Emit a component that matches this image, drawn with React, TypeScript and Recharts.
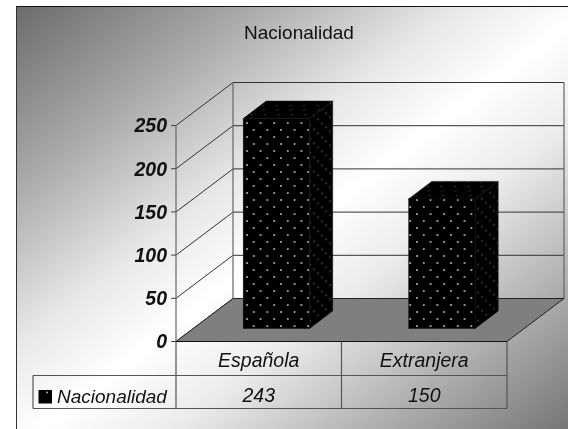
import React from 'react';
import { BarChart, Bar, XAxis, YAxis, CartesianGrid } from 'recharts';

const categories = ['Española', 'Extranjera'];
const values = [243, 150];
const yTicks = [0, 50, 100, 150, 200, 250];
const seriesName = 'Nacionalidad';

const chartData = categories.map((name, i) => ({ name, value: values[i] }));

const W = 568;
const H = 429;
const FONT = '"Liberation Sans", Arial, sans-serif';

// plot area of the front plane, the walls are drawn behind it with an offset
const LEFT = 176;
const RIGHT = 507;
const TOP = 125.5;
const BOTTOM = 341.5;
const DEPTH_X = 57;
const DEPTH_Y = 43;

// bars stand in the middle of the floor
const BAR_SHIFT_X = 17.2;
const BAR_SHIFT_Y = 13;
const BAR_DEPTH_X = 23;
const BAR_DEPTH_Y = 17.5;

const TABLE_ROW1 = 375.5;
const TABLE_ROW2 = 408.5;
const TABLE_LEFT = 33;
const TABLE_MID = 341.5;

const Patterns = () => (
  <defs>
    <pattern id="dotsFront" width={13.6} height={14} patternUnits="userSpaceOnUse" patternTransform="translate(245 121)">
      <rect width={13.6} height={14} fill="#000" />
      <circle cx={2} cy={2} r={1} fill="#b8b8b8" />
      <circle cx={8.8} cy={9} r={1} fill="#b8b8b8" />
    </pattern>
    <pattern id="dotsSide" width={8} height={14} patternUnits="userSpaceOnUse" patternTransform="skewY(-37)">
      <rect width={8} height={14} fill="#000" />
      <circle cx={2} cy={2} r={0.7} fill="#7a7a7a" />
      <circle cx={6} cy={9} r={0.7} fill="#7a7a7a" />
    </pattern>
    <pattern id="dotsTop" width={13.6} height={9} patternUnits="userSpaceOnUse" patternTransform="skewX(-53)">
      <rect width={13.6} height={9} fill="#000" />
      <circle cx={2} cy={2} r={0.6} fill="#666" />
      <circle cx={8.8} cy={6.5} r={0.6} fill="#666" />
    </pattern>
  </defs>
);

const Floor = () => (
  <polygon
    points={`${LEFT},${BOTTOM} ${LEFT + DEPTH_X},${BOTTOM - DEPTH_Y} ${RIGHT + DEPTH_X},${BOTTOM - DEPTH_Y} ${RIGHT},${BOTTOM}`}
    fill="#7f7f7f"
    stroke="#222"
    strokeWidth={1}
  />
);

const Walls = () => (
  <g fill="none" stroke="#666" strokeWidth={1.2}>
    <line x1={LEFT} y1={TOP} x2={LEFT} y2={BOTTOM} />
    <line x1={LEFT + DEPTH_X} y1={TOP - DEPTH_Y} x2={LEFT + DEPTH_X} y2={BOTTOM - DEPTH_Y} />
    <line x1={RIGHT + DEPTH_X} y1={TOP - DEPTH_Y} x2={RIGHT + DEPTH_X} y2={BOTTOM - DEPTH_Y} />
  </g>
);

// gridline runs up the side wall and then along the back wall
const gridLine = (props: any) => {
  const { x1, x2, y1, key } = props;
  const backY = y1 - DEPTH_Y;
  return (
    <path
      key={key ?? y1}
      d={`M${x1},${y1} L${x1 + DEPTH_X},${backY} L${x2 + DEPTH_X},${backY}`}
      fill="none"
      stroke="#333"
      strokeWidth={1}
    />
  );
};

const Bar3D = (props: any) => {
  const { x, y, width, height } = props;
  const fx = x + BAR_SHIFT_X;
  const fy = y - BAR_SHIFT_Y;
  const bottom = fy + height;
  const right = fx + width;
  return (
    <g stroke="#111" strokeWidth={0.5}>
      <polygon
        points={`${fx},${fy} ${fx + BAR_DEPTH_X},${fy - BAR_DEPTH_Y} ${right + BAR_DEPTH_X},${fy - BAR_DEPTH_Y} ${right},${fy}`}
        fill="url(#dotsTop)"
      />
      <polygon
        points={`${right},${fy} ${right + BAR_DEPTH_X},${fy - BAR_DEPTH_Y} ${right + BAR_DEPTH_X},${bottom - BAR_DEPTH_Y} ${right},${bottom}`}
        fill="url(#dotsSide)"
      />
      <rect x={fx} y={fy} width={width} height={height} fill="url(#dotsFront)" />
    </g>
  );
};

const TableTick = (props: any) => {
  const { x, y, payload } = props;
  return (
    <g fontFamily={FONT} fontStyle="italic" fontSize={19.5} fill="#111" textAnchor="middle">
      <text x={x} y={y + 25}>{payload.value}</text>
      <text x={x} y={y + 60}>{values[payload.index]}</text>
    </g>
  );
};

const DataTable = () => (
  <g>
    <g fill="none" stroke="#555" strokeWidth={1.2}>
      <line x1={TABLE_LEFT} y1={TABLE_ROW1} x2={RIGHT} y2={TABLE_ROW1} />
      <line x1={TABLE_LEFT} y1={TABLE_ROW2} x2={RIGHT} y2={TABLE_ROW2} />
      <line x1={TABLE_LEFT} y1={TABLE_ROW1} x2={TABLE_LEFT} y2={TABLE_ROW2} />
      <line x1={LEFT} y1={BOTTOM} x2={LEFT} y2={TABLE_ROW2} />
      <line x1={TABLE_MID} y1={BOTTOM} x2={TABLE_MID} y2={TABLE_ROW2} />
      <line x1={RIGHT} y1={BOTTOM} x2={RIGHT} y2={TABLE_ROW2} />
    </g>
    <rect x={38.5} y={390} width={13.5} height={13.5} fill="#000" />
    <circle cx={47} cy={392.5} r={0.9} fill="#bbb" />
    <text x={57} y={403} fontFamily={FONT} fontStyle="italic" fontSize={19} fill="#111">{seriesName}</text>
  </g>
);

const Title = () => (
  <text x={299} y={39} textAnchor="middle" fontFamily={FONT} fontSize={19} fill="#111">{seriesName}</text>
);

export default function App() {
  return (
    <div
      style={{
        position: 'absolute',
        left: 0,
        top: 0,
        width: W,
        height: H,
        overflow: 'hidden',
        filter: 'blur(0.35px)',
      }}
    >
      <div
        style={{
          position: 'absolute',
          left: 16,
          top: 6,
          width: W - 16,
          height: H - 6,
          boxSizing: 'border-box',
          borderLeft: '1.5px solid #333',
          borderTop: '1.5px solid #111',
          background:
            'linear-gradient(to bottom right, #6c6c6c 0%, #acacac 22%, #e8e8e8 40%, #ffffff 52%, #ececec 64%, #b0b0b0 82%, #767676 100%)',
        }}
      />
      <div style={{ position: 'absolute', left: 0, top: 0 }}>
        <BarChart
          width={W}
          height={H}
          data={chartData}
          barSize={66.5}
          margin={{ top: TOP, right: W - RIGHT, bottom: 27.5, left: LEFT - 60 }}
          style={{ background: 'transparent' }}
        >
          <Patterns />
          <Floor />
          <CartesianGrid vertical={false} horizontal={gridLine} />
          <Walls />
          <XAxis
            dataKey="name"
            height={60}
            tickLine={false}
            tickSize={0}
            tickMargin={0}
            axisLine={{ stroke: '#111', strokeWidth: 1.2 }}
            tick={<TableTick />}
            interval={0}
          />
          <YAxis
            width={60}
            domain={[0, 250]}
            ticks={yTicks}
            interval={0}
            tickSize={5}
            tickMargin={4}
            axisLine={false}
            tickLine={{ stroke: '#444' }}
            tick={{ fontFamily: FONT, fontStyle: 'italic', fontWeight: 'bold', fontSize: 19.5, fill: '#111' }}
          />
          <Bar dataKey="value" name={seriesName} shape={<Bar3D />} isAnimationActive={false} />
          <DataTable />
          <Title />
        </BarChart>
      </div>
    </div>
  );
}
